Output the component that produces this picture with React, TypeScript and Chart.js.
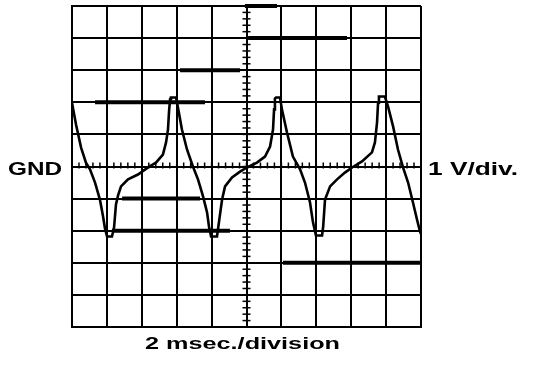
import { useEffect, useRef } from "react";
import { Chart, registerables } from "chart.js";
Chart.register(...registerables);

// Trace: time (ms) and voltage (V)
const traceTime = [
  0.0, 0.23, 0.52, 0.8, 1.03, 1.32, 1.6, 1.78, 1.89, 2.01, 2.29, 2.41, 2.52, 2.64, 2.81, 3.21, 3.78, 4.36, 4.81, 5.21, 5.39, 5.5, 5.56, 5.62, 5.67, 5.96,
  6.02, 6.3, 6.59, 6.93, 7.22, 7.51, 7.74, 7.85, 7.97, 8.31, 8.42, 8.6, 8.77, 9.17, 9.63, 10.03, 10.6, 11.06, 11.35, 11.52, 11.58, 11.63, 11.69, 11.92,
  12.03, 12.32, 12.66, 13.07, 13.35, 13.64, 13.81, 13.98, 14.33, 14.39, 14.5, 14.79, 15.19, 15.64, 16.05, 16.62, 17.19, 17.36, 17.48, 17.54, 17.59, 17.93,
  18.11, 18.4, 18.68, 18.97, 19.26, 19.54, 19.77, 19.94, 20.0,
];
const traceVolts = [
  1.99, 1.31, 0.59, 0.12, -0.09, -0.5, -1.03, -1.56, -1.93, -2.18, -2.18, -1.9, -1.18, -0.9, -0.62, -0.4, -0.25, -0.03, 0.12, 0.37, 0.75, 1.15, 1.71, 2.09, 2.15, 2.15,
  1.99, 1.15, 0.53, 0.0, -0.4, -0.93, -1.43, -1.87, -2.18, -2.18, -1.74, -1.03, -0.62, -0.34, -0.16, -0.03, 0.12, 0.31, 0.62, 1.15, 1.78, 2.12, 2.15, 2.15,
  1.78, 1.06, 0.31, -0.09, -0.5, -1.12, -1.74, -2.15, -2.15, -1.9, -1.03, -0.62, -0.4, -0.19, -0.03, 0.16, 0.44, 0.75, 1.37, 1.99, 2.18, 2.18,
  1.87, 1.25, 0.53, -0.03, -0.5, -1.12, -1.65, -2.02, -2.1,
];

// Heavier graticule segments visible in the photo
const markLevel = [5, 4, 3, 2, -1, -2, -3];
const markStart = [9.91, 10.09, 6.19, 1.32, 2.87, 2.29, 12.09];
const markEnd = [11.75, 15.76, 9.63, 7.62, 7.34, 9.05, 19.94];

const leftLabel = "GND";
const rightLabel = "1 V/div.";
const bottomLabel = "2 msec./division";

function drawStretched(ctx: CanvasRenderingContext2D, text: string, left: number, baseline: number, width: number, font: string) {
  ctx.save();
  ctx.font = font;
  ctx.fillStyle = "#000";
  ctx.textBaseline = "alphabetic";
  ctx.textAlign = "left";
  const w = ctx.measureText(text).width;
  const s = width / w;
  ctx.translate(left, baseline);
  ctx.scale(s, 1);
  ctx.fillText(text, 0, 0);
  ctx.restore();
}

const scopePlugin = {
  id: "scope",
  beforeDatasetsDraw(chart: any) {
    const { ctx, scales } = chart;
    const x = scales.x, y = scales.y;
    const cx = x.getPixelForValue(10);
    const cy = y.getPixelForValue(0);
    ctx.save();
    ctx.strokeStyle = "#000";
    ctx.lineWidth = 1.5;
    for (let i = 0; i <= 50; i++) {
      const py = y.getPixelForValue(-5 + i * 0.2);
      ctx.beginPath();
      ctx.moveTo(cx - 4, py);
      ctx.lineTo(cx + 4, py);
      ctx.stroke();
    }
    for (let i = 0; i <= 50; i++) {
      const px = x.getPixelForValue(i * 0.4);
      ctx.beginPath();
      ctx.moveTo(px, cy - 4);
      ctx.lineTo(px, cy + 2);
      ctx.stroke();
    }
    ctx.restore();
  },
  afterDraw(chart: any) {
    const { ctx, chartArea } = chart;
    const cy = chart.scales.y.getPixelForValue(0);
    const font18 = "bold 18px 'Liberation Sans', Arial, sans-serif";
    const font17 = "bold 17px 'Liberation Sans', Arial, sans-serif";
    drawStretched(ctx, leftLabel, chartArea.left - 64, cy + 8, 54, font18);
    drawStretched(ctx, rightLabel, chartArea.right + 7, cy + 8, 90, font18);
    drawStretched(ctx, bottomLabel, 145, chartArea.bottom + 22, 195, font17);
  },
};

export default function App() {
  const ref = useRef<HTMLCanvasElement>(null);
  useEffect(() => {
    if (!ref.current) return;
    const datasets: any[] = [
      {
        data: traceTime.map((t, i) => ({ x: t, y: traceVolts[i] })),
        borderColor: "#000",
        borderWidth: 2.6,
        pointRadius: 0,
        tension: 0,
        fill: false,
      },
    ];
    markLevel.forEach((lv, i) => {
      datasets.push({
        data: [
          { x: markStart[i], y: lv },
          { x: markEnd[i], y: lv },
        ],
        borderColor: "#000",
        borderWidth: 4,
        pointRadius: 0,
        fill: false,
        clip: 4,
      });
    });
    const chart = new Chart(ref.current, {
      type: "line",
      data: { datasets },
      plugins: [scopePlugin],
      options: {
        animation: false,
        responsive: false,
        maintainAspectRatio: false,
        layout: { padding: { left: 72, top: 6, right: 123, bottom: 39 } },
        plugins: { legend: { display: false }, tooltip: { enabled: false } },
        scales: {
          x: {
            type: "linear",
            min: 0,
            max: 20,
            ticks: { display: false, stepSize: 2 },
            grid: { color: "#000", lineWidth: 2, drawTicks: false },
            border: { display: true, color: "#000", width: 2 },
          },
          y: {
            type: "linear",
            min: -5,
            max: 5,
            ticks: { display: false, stepSize: 1 },
            grid: { color: "#000", lineWidth: 2, drawTicks: false },
            border: { display: true, color: "#000", width: 2 },
          },
        },
      },
    });
    return () => chart.destroy();
  }, []);
  return (
    <div style={{ position: "absolute", left: 0, top: 0, width: 544, height: 366, background: "#fff" }}>
      <canvas ref={ref} width={544} height={366} style={{ width: 544, height: 366 }} />
    </div>
  );
}
